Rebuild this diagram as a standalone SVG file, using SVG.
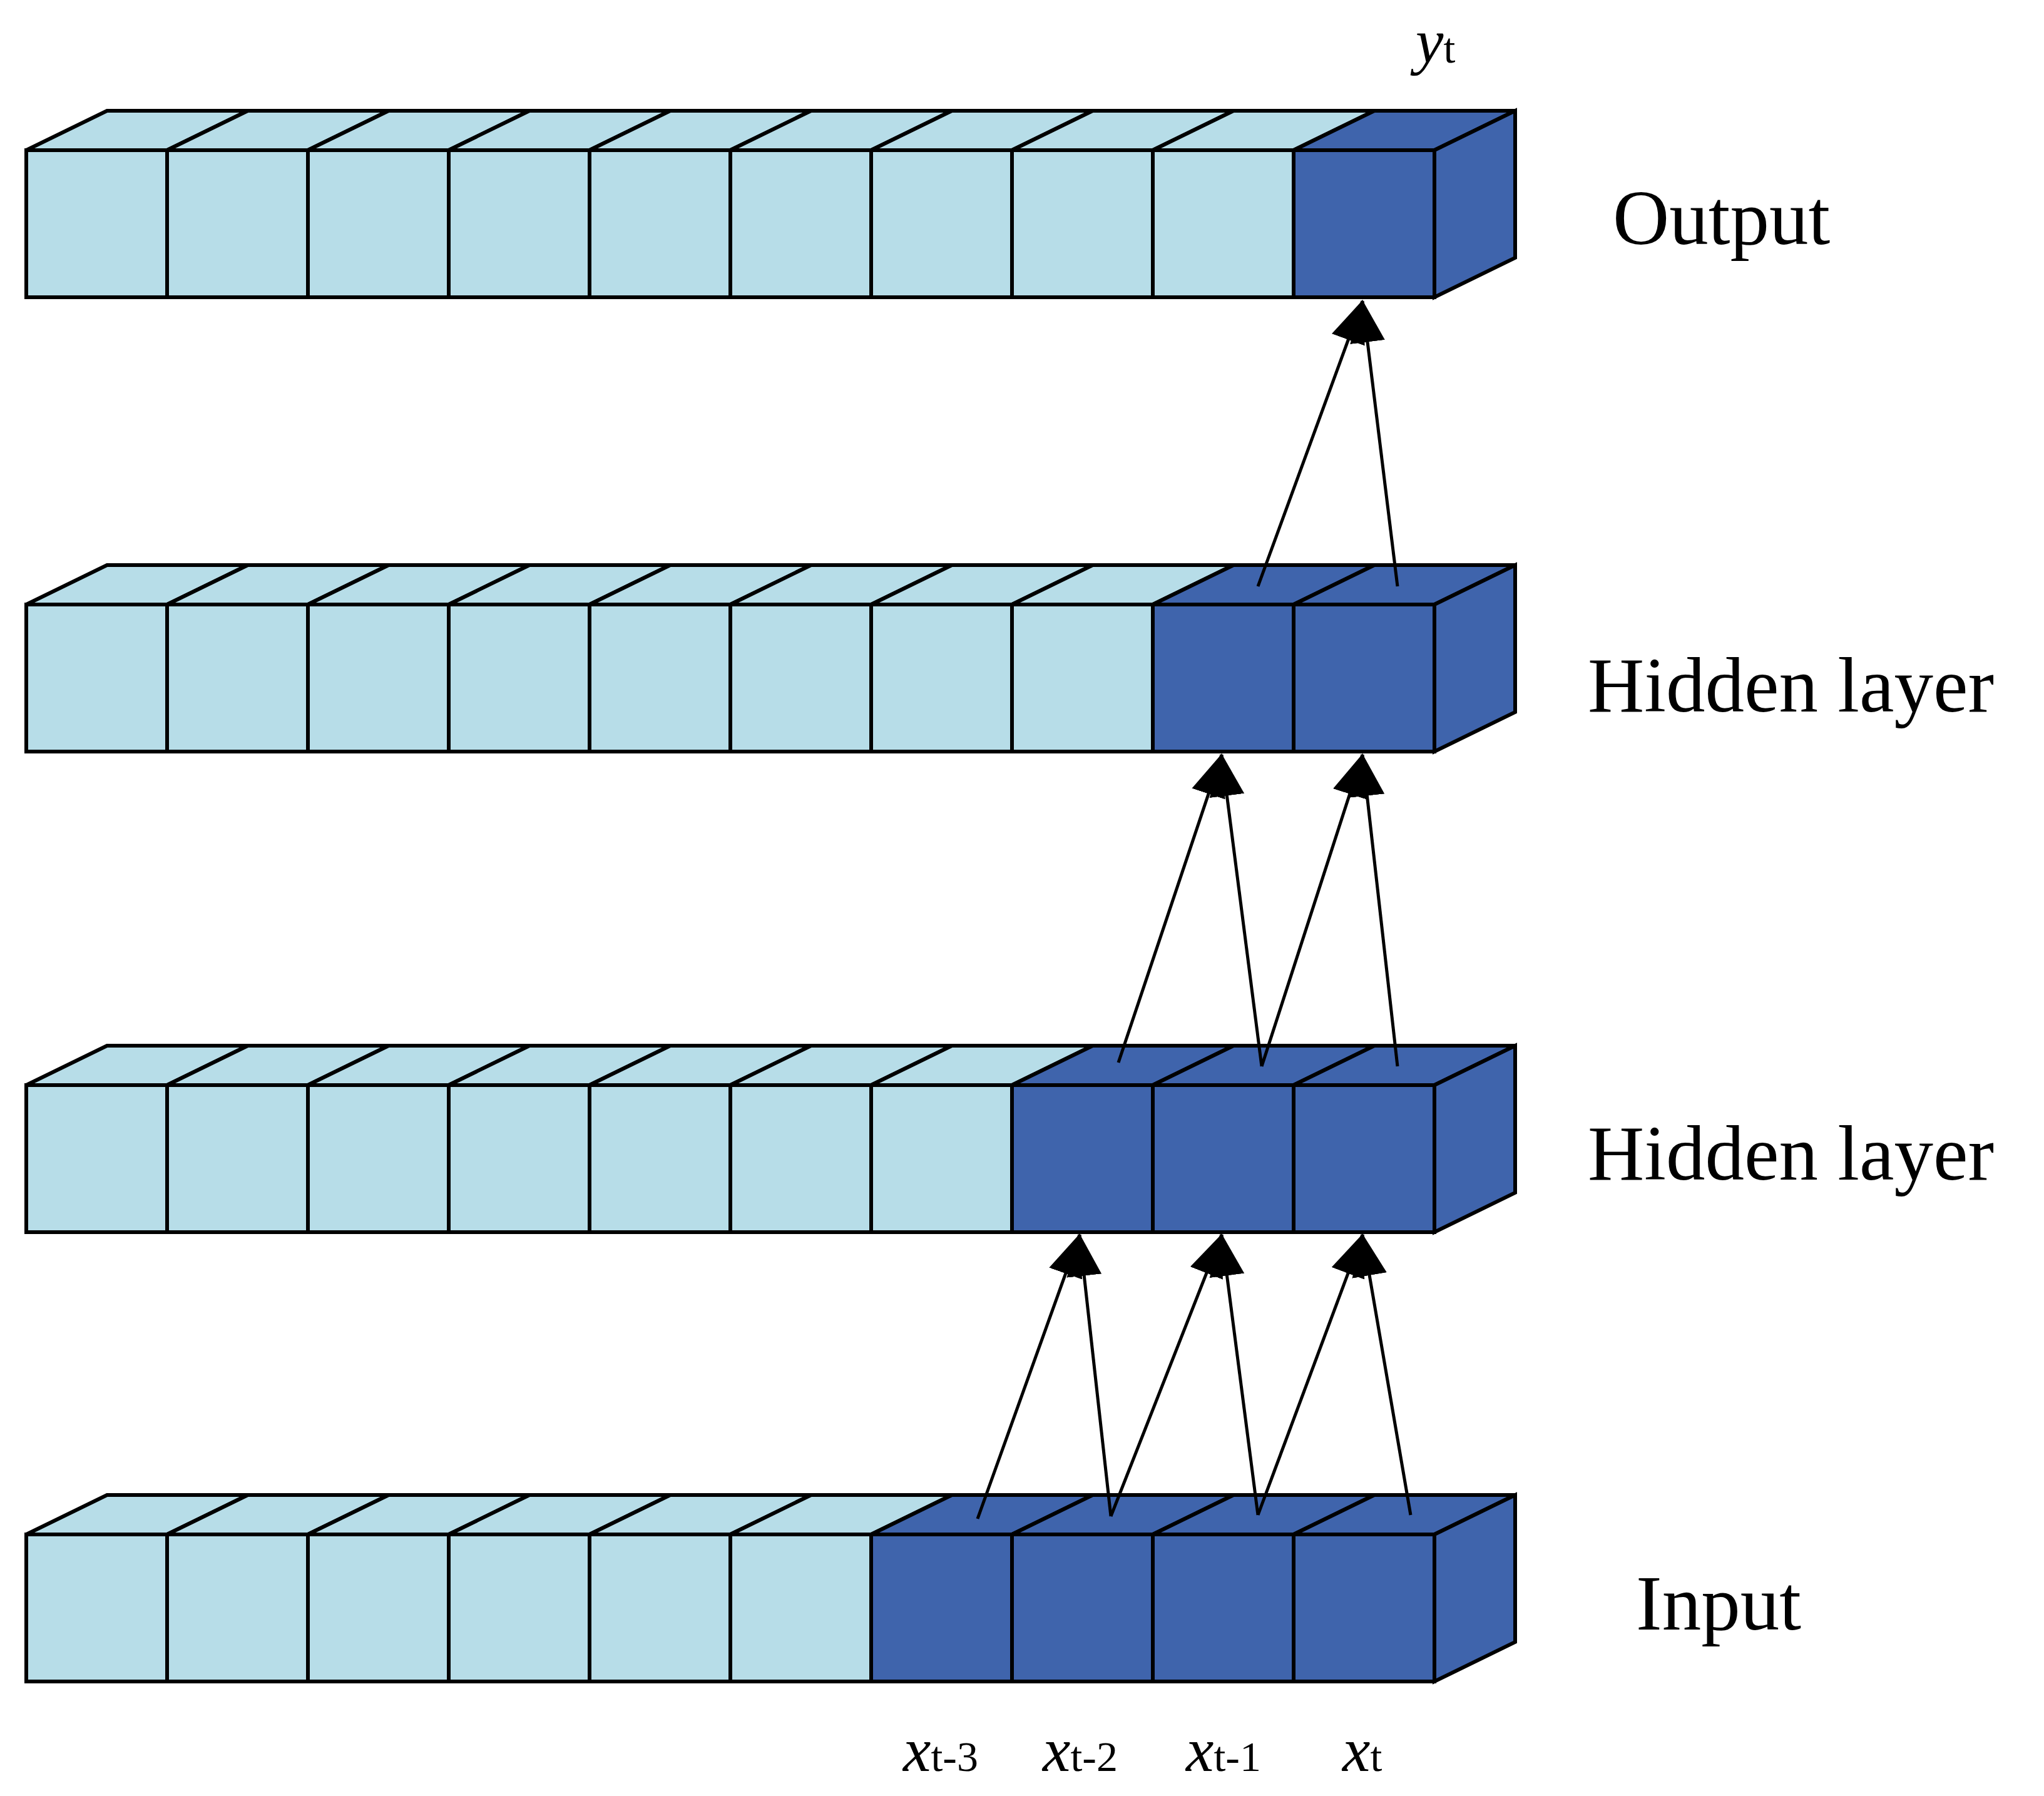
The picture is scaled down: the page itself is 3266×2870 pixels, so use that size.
<svg xmlns="http://www.w3.org/2000/svg" width="3266" height="2870" viewBox="0 0 3266 2870">
<style>
.l{fill:#B7DDE8;stroke:#000;stroke-width:6;stroke-linejoin:miter}
.d{fill:#3F64AC;stroke:#000;stroke-width:6;stroke-linejoin:miter}
.c{stroke:#000;stroke-width:5;fill:none}
.t{font-family:"Liberation Serif",serif;font-size:125px;fill:#000}
.v{font-family:"Liberation Serif",serif;font-size:100px;fill:#000;font-style:italic}
.s{font-size:68px;font-style:normal}
</style>
<defs>
<marker id="a" markerUnits="userSpaceOnUse" markerWidth="60" markerHeight="70" viewBox="0 0 60 70" refX="30" refY="0" orient="auto-start-reverse">
<path d="M0,0 L60,0 L30,0Z" fill="none"/>
</marker>
<marker id="h" markerUnits="userSpaceOnUse" markerWidth="70" markerHeight="60" viewBox="0 0 70 60" refX="66" refY="30" orient="auto">
<path d="M0,2 L68,30 L0,58 Z" fill="#000"/>
</marker>
<g id="cell">
<polygon points="0,0 129,-63 354,-63 225,0"/>
<rect x="0" y="0" width="225" height="235"/>
</g>
</defs>
<g id="output">
<g class="l">
<use href="#cell" x="42" y="240"/><use href="#cell" x="267" y="240"/><use href="#cell" x="492" y="240"/><use href="#cell" x="717" y="240"/><use href="#cell" x="942" y="240"/><use href="#cell" x="1167" y="240"/><use href="#cell" x="1392" y="240"/><use href="#cell" x="1617" y="240"/><use href="#cell" x="1842" y="240"/>
</g>
<g class="d"><use href="#cell" x="2067" y="240"/><polygon points="2292,240 2421,177 2421,412 2292,475"/></g>
</g>
<g id="hidden1">
<g class="l">
<use href="#cell" x="42" y="966"/><use href="#cell" x="267" y="966"/><use href="#cell" x="492" y="966"/><use href="#cell" x="717" y="966"/><use href="#cell" x="942" y="966"/><use href="#cell" x="1167" y="966"/><use href="#cell" x="1392" y="966"/><use href="#cell" x="1617" y="966"/>
</g>
<g class="d"><use href="#cell" x="1842" y="966"/><use href="#cell" x="2067" y="966"/><polygon points="2292,966 2421,903 2421,1138 2292,1201"/></g>
</g>
<g id="hidden2">
<g class="l">
<use href="#cell" x="42" y="1734"/><use href="#cell" x="267" y="1734"/><use href="#cell" x="492" y="1734"/><use href="#cell" x="717" y="1734"/><use href="#cell" x="942" y="1734"/><use href="#cell" x="1167" y="1734"/><use href="#cell" x="1392" y="1734"/>
</g>
<g class="d"><use href="#cell" x="1617" y="1734"/><use href="#cell" x="1842" y="1734"/><use href="#cell" x="2067" y="1734"/><polygon points="2292,1734 2421,1671 2421,1906 2292,1969"/></g>
</g>
<g id="input">
<g class="l">
<use href="#cell" x="42" y="2452"/><use href="#cell" x="267" y="2452"/><use href="#cell" x="492" y="2452"/><use href="#cell" x="717" y="2452"/><use href="#cell" x="942" y="2452"/><use href="#cell" x="1167" y="2452"/>
</g>
<g class="d"><use href="#cell" x="1392" y="2452"/><use href="#cell" x="1617" y="2452"/><use href="#cell" x="1842" y="2452"/><use href="#cell" x="2067" y="2452"/><polygon points="2292,2452 2421,2389 2421,2624 2292,2687"/></g>
</g>
<g id="connectors" class="c" marker-end="url(#h)">
<line x1="2010" y1="937" x2="2177" y2="481"/>
<line x1="2233" y1="937" x2="2177" y2="481"/>
<line x1="1787" y1="1698" x2="1952" y2="1206"/>
<line x1="2016" y1="1704" x2="1952" y2="1206"/>
<line x1="2016" y1="1704" x2="2177" y2="1206"/>
<line x1="2233" y1="1704" x2="2177" y2="1206"/>
<line x1="1562" y1="2427" x2="1725" y2="1973"/>
<line x1="1775" y1="2423" x2="1725" y2="1973"/>
<line x1="1775" y1="2423" x2="1952" y2="1973"/>
<line x1="2010" y1="2421" x2="1952" y2="1973"/>
<line x1="2010" y1="2421" x2="2177" y2="1973"/>
<line x1="2254" y1="2421" x2="2177" y2="1973"/>
</g>
<g id="labels">
<text class="t" x="2577" y="390">Output</text>
<text class="t" x="2537" y="1137">Hidden layer</text>
<text class="t" x="2537" y="1885">Hidden layer</text>
<text class="t" x="2614" y="2604">Input</text>
<text class="v" x="2262" y="100" font-size="115">y<tspan class="s" font-size="75">t</tspan></text>
<text class="v" x="1443" y="2830">x<tspan class="s">t-3</tspan></text>
<text class="v" x="1666" y="2830">x<tspan class="s">t-2</tspan></text>
<text class="v" x="1895" y="2830">x<tspan class="s">t-1</tspan></text>
<text class="v" x="2145" y="2830">x<tspan class="s">t</tspan></text>
</g>
</svg>
